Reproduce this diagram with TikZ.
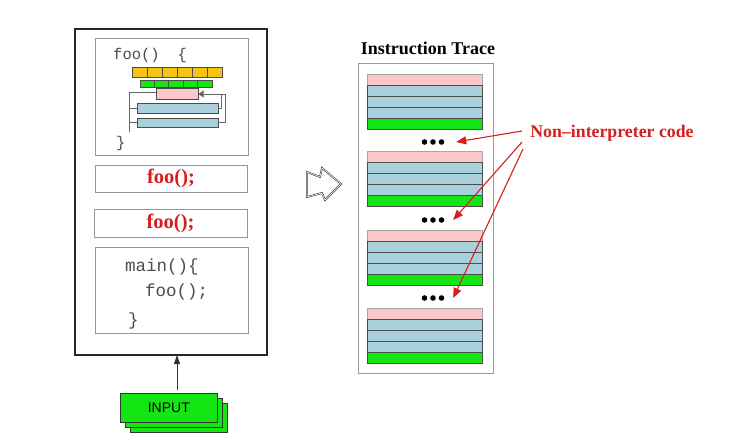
\documentclass[tikz,border=0pt]{standalone}
\usepackage{fontspec}
\setmainfont{Liberation Serif}
\setsansfont{Liberation Sans}
\setmonofont{Liberation Mono}
\usetikzlibrary{arrows.meta,calc}

\definecolor{callred}{RGB}{215,30,30}
\definecolor{bargold}{RGB}{245,195,20}
\definecolor{bargreen}{RGB}{20,230,20}
\definecolor{barpink}{RGB}{250,200,200}
\definecolor{barblue}{RGB}{170,208,222}
\definecolor{framegray}{RGB}{150,150,150}

\tikzset{
  box/.style={draw=framegray, line width=0.9pt, inner sep=0pt, outer sep=0pt, anchor=north west},
  outerbox/.style={draw=black!85, line width=2pt, inner sep=0pt, outer sep=0pt, anchor=north west},
  redcall/.style={font=\fontsize{20.5}{22}\selectfont\bfseries, text=callred, inner sep=0pt},
  code/.style={font=\fontsize{17.5}{19}\selectfont\ttfamily, text=black!70, anchor=west, inner sep=0pt},
  cell/.style={draw=black!70, line width=1pt},
  loopline/.style={draw=black!60, line width=0.8pt},
  inputbox/.style={draw=black!80, fill=bargreen, line width=0.7pt, minimum width=97pt, minimum height=29pt, inner sep=0pt, anchor=north west},
  redarrow/.style={draw=callred, line width=1.1pt, -{Triangle[length=10pt,width=8pt]}},
  dotgroup/.style={minimum width=24pt, minimum height=6pt, inner sep=0pt},
}

\begin{document}
\begin{tikzpicture}[x=1pt,y=-1pt]
\useasboundingbox (0,0) rectangle (732,434);
\fill[white] (0,0) rectangle (732,434);

% ---- program image ----
\node[outerbox, minimum width=192pt, minimum height=326pt] (outer) at (75,29) {};

\node[box, minimum width=153pt, minimum height=117pt] (foobox) at (95,38) {};
\node[code, font=\fontsize{15.5}{17}\selectfont\ttfamily] (foohead) at (113,55) {foo()\hspace{18pt}\{};
\node[code, font=\fontsize{15.5}{17}\selectfont\ttfamily] (fooend) at (116,143) {\}};

% loop body of foo()
\foreach \i in {0,...,5}
  \filldraw[cell, fill=bargold] (132+15*\i,67) rectangle ++(15,10);
\foreach \i in {0,...,4}
  \filldraw[cell, fill=bargreen] (140+14.4*\i,80) rectangle ++(14.4,7);
\filldraw[cell, fill=barpink] (156,88) rectangle (198,99);
\filldraw[cell, fill=barblue] (137,103) rectangle (218,113);
\filldraw[cell, fill=barblue] (137,118) rectangle (218,127);
\draw[loopline] (129,132) -- (129,92) -- (156,92);
\draw[loopline] (129,108) -- (137,108);
\draw[loopline] (129,122.5) -- (137,122.5);
\draw[loopline] (218,122.5) -- (225,122.5) -- (225,94);
\draw[loopline] (218,108) -- (221.5,108) -- (221.5,94);
\draw[loopline, -{Triangle[length=5pt,width=7pt]}] (225,94) -- (198.5,94);

\node[box, minimum width=152pt, minimum height=27pt] (call1) at (95,165) {};
\node[redcall] (call1txt) at (call1.center) {foo();};
\node[box, minimum width=153pt, minimum height=28pt] (call2) at (94,209) {};
\node[redcall] (call2txt) at (call2.center) {foo();};

\node[box, minimum width=153pt, minimum height=86pt] (mainbox) at (95,247) {};
\node[code] (mainhead) at (125,267) {main()\{};
\node[code] (maincall) at (145,292) {foo();};
\node[code] (mainend) at (128,321) {\}};

% ---- input ----
\node[inputbox] (input3) at (130,403) {};
\node[inputbox] (input2) at (125,398) {};
\node[inputbox, font=\fontsize{14}{15}\selectfont\sffamily] (input) at (120,393) {INPUT};
\coordinate (inarrow) at (177,390);
\draw[draw=black!80, line width=0.9pt, -{Triangle[length=9pt,width=6pt]}] (inarrow) -- (inarrow |- outer.south);

% ---- hollow transform arrow ----
\draw[draw=gray!50!black, line width=1.8pt, line join=miter]
  (307,172) -- (320,177) -- (322,168) -- (341,184) -- (325,200) -- (322,193) -- (307,197) -- cycle;
\draw[draw=white, line width=0.6pt, line join=miter]
  (307,172) -- (320,177) -- (322,168) -- (341,184) -- (325,200) -- (322,193) -- (307,197) -- cycle;

% ---- instruction trace ----
\node[font=\fontsize{18}{20}\selectfont\bfseries, inner sep=0pt] (title) at (428,48) {Instruction Trace};
\node[box, minimum width=135pt, minimum height=310pt, draw=gray!80] (trace) at (358,63) {};

\foreach \t in {74,151,230,308} {
  \filldraw[cell, draw=black!35, fill=barpink] (367,\t) rectangle (482,\t+11);
  \foreach \r in {1,2,3}
    \filldraw[cell, fill=barblue] (367,\t+11*\r) rectangle (482,\t+11*\r+11);
  \filldraw[cell, fill=bargreen] (367,\t+44) rectangle (482,\t+55);
}

\foreach \n/\y in {d1/142, d2/220, d3/298} {
  \node[dotgroup] (\n) at (433,\y) {};
  \foreach \dx in {-8.5,0,8.5}
    \fill[black] ($(\n.center)+(\dx,0)$) circle (2.8);
}

% ---- annotation ----
\node[font=\fontsize{17.8}{19}\selectfont\bfseries, text=callred, inner sep=0pt] (nic) at (612,133) {Non--interpreter code};
\coordinate (a1) at (522,131);
\coordinate (a2) at (522,142);
\coordinate (a3) at (523,149);
\draw[redarrow] (a1) -- ([xshift=11pt]d1.east);
\draw[redarrow] (a2) -- ([xshift=8pt]d2.east);
\draw[redarrow] (a3) -- ([xshift=8pt]d3.east);
\end{tikzpicture}
\end{document}
